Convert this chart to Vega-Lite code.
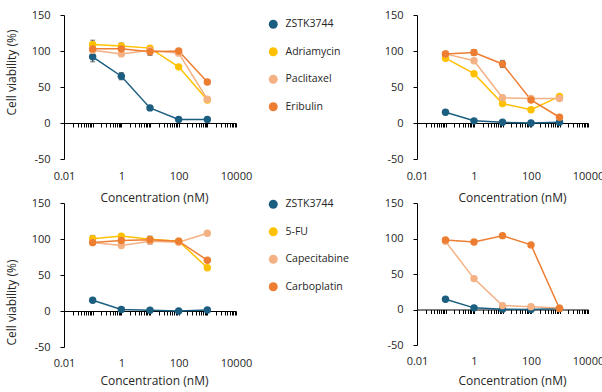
{
  "$schema": "https://vega.github.io/schema/vega-lite/v6.json",
  "padding": {"left": 5, "top": 9, "right": 0, "bottom": 0},
  "bounds": "flush",
  "columns": 2,
  "spacing": {"row": 44, "column": 181},
  "resolve": {"scale": {"color": "independent"}, "legend": {"color": "independent"}},
  "config": {
    "view": {"stroke": null},
    "font": "Open Sans",
    "axis": {"grid": false, "domainColor": "#000000", "tickColor": "#000000", "labelColor": "#262626", "titleColor": "#262626", "labelFontSize": 11, "titleFontSize": 12, "titleFontWeight": "normal", "labelFont": "Open Sans", "titleFont": "Open Sans", "tickSize": 4},
    "axisY": {"labelOverlap": false, "labelExpr": "datum.value + ''", "values": [-50, 0, 50, 100, 150], "labelPadding": 10},
    "legend": {"labelFont": "Open Sans", "labelFontSize": 10.5, "labelColor": "#262626", "symbolType": "circle", "symbolSize": 80, "symbolStrokeWidth": 0, "symbolOpacity": 1, "rowPadding": 16.5, "labelOffset": 7}
  },
  "datasets": {
    "tl": [
      {"c": 0.1, "drug": "ZSTK3744", "v": 92, "lo": 85, "hi": 99},
      {"c": 1, "drug": "ZSTK3744", "v": 65, "lo": 60, "hi": 70},
      {"c": 10, "drug": "ZSTK3744", "v": 21},
      {"c": 100, "drug": "ZSTK3744", "v": 5},
      {"c": 1000, "drug": "ZSTK3744", "v": 5},
      {"c": 0.1, "drug": "Adriamycin", "v": 109, "lo": 103, "hi": 115},
      {"c": 1, "drug": "Adriamycin", "v": 107, "lo": 103, "hi": 111},
      {"c": 10, "drug": "Adriamycin", "v": 104},
      {"c": 100, "drug": "Adriamycin", "v": 78},
      {"c": 1000, "drug": "Adriamycin", "v": 32},
      {"c": 0.1, "drug": "Paclitaxel", "v": 101},
      {"c": 1, "drug": "Paclitaxel", "v": 96},
      {"c": 10, "drug": "Paclitaxel", "v": 101, "lo": 96, "hi": 106},
      {"c": 100, "drug": "Paclitaxel", "v": 97},
      {"c": 1000, "drug": "Paclitaxel", "v": 33},
      {"c": 0.1, "drug": "Eribulin", "v": 103},
      {"c": 1, "drug": "Eribulin", "v": 103},
      {"c": 10, "drug": "Eribulin", "v": 99, "lo": 94, "hi": 104},
      {"c": 100, "drug": "Eribulin", "v": 100},
      {"c": 1000, "drug": "Eribulin", "v": 57}
    ],
    "tr": [
      {"c": 0.1, "drug": "ZSTK3744", "v": 15},
      {"c": 1, "drug": "ZSTK3744", "v": 3},
      {"c": 10, "drug": "ZSTK3744", "v": 1},
      {"c": 100, "drug": "ZSTK3744", "v": 0},
      {"c": 1000, "drug": "ZSTK3744", "v": 1},
      {"c": 0.1, "drug": "Adriamycin", "v": 90},
      {"c": 1, "drug": "Adriamycin", "v": 68.5},
      {"c": 10, "drug": "Adriamycin", "v": 27},
      {"c": 100, "drug": "Adriamycin", "v": 18.5},
      {"c": 1000, "drug": "Adriamycin", "v": 37},
      {"c": 0.1, "drug": "Paclitaxel", "v": 96},
      {"c": 1, "drug": "Paclitaxel", "v": 86.5},
      {"c": 10, "drug": "Paclitaxel", "v": 35},
      {"c": 100, "drug": "Paclitaxel", "v": 34},
      {"c": 1000, "drug": "Paclitaxel", "v": 34},
      {"c": 0.1, "drug": "Eribulin", "v": 96},
      {"c": 1, "drug": "Eribulin", "v": 98, "lo": 94, "hi": 102},
      {"c": 10, "drug": "Eribulin", "v": 82, "lo": 77, "hi": 87},
      {"c": 100, "drug": "Eribulin", "v": 32},
      {"c": 1000, "drug": "Eribulin", "v": 8}
    ],
    "bl": [
      {"c": 0.1, "drug": "ZSTK3744", "v": 15},
      {"c": 1, "drug": "ZSTK3744", "v": 2},
      {"c": 10, "drug": "ZSTK3744", "v": 1},
      {"c": 100, "drug": "ZSTK3744", "v": 0},
      {"c": 1000, "drug": "ZSTK3744", "v": 1.5},
      {"c": 0.1, "drug": "5-FU", "v": 100.5, "lo": 96, "hi": 105},
      {"c": 1, "drug": "5-FU", "v": 104, "lo": 101, "hi": 107},
      {"c": 10, "drug": "5-FU", "v": 99.5},
      {"c": 100, "drug": "5-FU", "v": 97},
      {"c": 1000, "drug": "5-FU", "v": 60, "lo": 57, "hi": 63},
      {"c": 0.1, "drug": "Capecitabine", "v": 95},
      {"c": 1, "drug": "Capecitabine", "v": 91},
      {"c": 10, "drug": "Capecitabine", "v": 97},
      {"c": 100, "drug": "Capecitabine", "v": 95.5},
      {"c": 1000, "drug": "Capecitabine", "v": 108},
      {"c": 0.1, "drug": "Carboplatin", "v": 95},
      {"c": 1, "drug": "Carboplatin", "v": 98},
      {"c": 10, "drug": "Carboplatin", "v": 99, "lo": 93, "hi": 104},
      {"c": 100, "drug": "Carboplatin", "v": 97, "lo": 94, "hi": 100},
      {"c": 1000, "drug": "Carboplatin", "v": 70.5}
    ],
    "br": [
      {"c": 0.1, "drug": "ZSTK3744", "v": 14.5},
      {"c": 1, "drug": "ZSTK3744", "v": 2.3},
      {"c": 10, "drug": "ZSTK3744", "v": 0.5},
      {"c": 100, "drug": "ZSTK3744", "v": 0},
      {"c": 1000, "drug": "ZSTK3744", "v": 1.4},
      {"c": 0.1, "drug": "Capecitabine", "v": 96},
      {"c": 1, "drug": "Capecitabine", "v": 43.5},
      {"c": 10, "drug": "Capecitabine", "v": 5.5},
      {"c": 100, "drug": "Capecitabine", "v": 4},
      {"c": 1000, "drug": "Capecitabine", "v": 2},
      {"c": 0.1, "drug": "Carboplatin", "v": 98},
      {"c": 1, "drug": "Carboplatin", "v": 95},
      {"c": 10, "drug": "Carboplatin", "v": 104},
      {"c": 100, "drug": "Carboplatin", "v": 91},
      {"c": 1000, "drug": "Carboplatin", "v": 1.5}
    ]
  },
  "concat": [
    {
      "width": 172, "height": 144,
      "data": {"name": "tl"},
      "layer": [
        {"transform": [{"filter": "isValid(datum.lo)"}], "mark": {"type": "errorbar", "ticks": true, "color": "#333333", "thickness": 1}, "encoding": {"x": {"field": "c", "type": "quantitative", "scale": {"type": "log", "domain": [0.01, 10000], "nice": false}, "title": "Concentration (nM)"}, "y": {"field": "lo", "type": "quantitative", "scale": {"domain": [-50, 150], "nice": false, "zero": false}, "title": "Cell viability (%)"}, "y2": {"field": "hi"}}},
        {"mark": {"type": "line", "strokeWidth": 1.5}, "encoding": {
          "x": {"field": "c", "type": "quantitative", "scale": {"type": "log", "domain": [0.01, 10000], "nice": false}, "title": "Concentration (nM)", "axis": {"values": [0.01,0.02,0.03,0.04,0.05,0.06,0.07,0.08,0.09,0.1,0.2,0.3,0.4,0.5,0.6,0.7,0.8,0.9,1,2,3,4,5,6,7,8,9,10,20,30,40,50,60,70,80,90,100,200,300,400,500,600,700,800,900,1000,2000,3000,4000,5000,6000,7000,8000,9000,10000], "format": "~g", "labelExpr": "indexof([0.01,1,100,10000], datum.value) >= 0 ? datum.label : ''", "offset": -36, "labelPadding": 43, "titlePadding": 11, "labelOverlap": false, "labelFlush": false, "labelBound": false, "titleX": 90}},
          "y": {"field": "v", "type": "quantitative", "scale": {"domain": [-50, 150], "nice": false, "zero": false}, "title": "Cell viability (%)", "axis": {"titlePadding": 13, "titleY": 57}},
          "color": {"field": "drug", "type": "nominal", "scale": {"domain": ["ZSTK3744", "Adriamycin", "Paclitaxel", "Eribulin"], "range": ["#1B5E80", "#FFC000", "#F4B183", "#ED7D31"]}, "legend": {"title": null, "orient": "none", "legendX": 204, "legendY": 4, "symbolType": "circle"}}}},
        {"mark": {"type": "point", "filled": true, "size": 55, "opacity": 1}, "encoding": {
          "x": {"field": "c", "type": "quantitative", "scale": {"type": "log", "domain": [0.01, 10000], "nice": false}, "title": "Concentration (nM)"},
          "y": {"field": "v", "type": "quantitative", "scale": {"domain": [-50, 150], "nice": false, "zero": false}, "title": "Cell viability (%)"},
          "color": {"field": "drug", "type": "nominal", "scale": {"domain": ["ZSTK3744", "Adriamycin", "Paclitaxel", "Eribulin"], "range": ["#1B5E80", "#FFC000", "#F4B183", "#ED7D31"]}}}}
      ]
    },
    {
      "width": 171, "height": 144,
      "data": {"name": "tr"},
      "layer": [
        {"transform": [{"filter": "isValid(datum.lo)"}], "mark": {"type": "errorbar", "ticks": true, "color": "#333333", "thickness": 1}, "encoding": {"x": {"field": "c", "type": "quantitative", "scale": {"type": "log", "domain": [0.01, 10000], "nice": false}, "title": "Concentration (nM)"}, "y": {"field": "lo", "type": "quantitative", "scale": {"domain": [-50, 150], "nice": false, "zero": false}, "title": null}, "y2": {"field": "hi"}}},
        {"mark": {"type": "line", "strokeWidth": 1.5}, "encoding": {
          "x": {"field": "c", "type": "quantitative", "scale": {"type": "log", "domain": [0.01, 10000], "nice": false}, "title": "Concentration (nM)", "axis": {"values": [0.01,0.02,0.03,0.04,0.05,0.06,0.07,0.08,0.09,0.1,0.2,0.3,0.4,0.5,0.6,0.7,0.8,0.9,1,2,3,4,5,6,7,8,9,10,20,30,40,50,60,70,80,90,100,200,300,400,500,600,700,800,900,1000,2000,3000,4000,5000,6000,7000,8000,9000,10000], "format": "~g", "labelExpr": "indexof([0.01,1,100,10000], datum.value) >= 0 ? datum.label : ''", "offset": -36, "labelPadding": 43, "titlePadding": 11, "labelOverlap": false, "labelFlush": false, "labelBound": false, "titleX": 95}},
          "y": {"field": "v", "type": "quantitative", "scale": {"domain": [-50, 150], "nice": false, "zero": false}, "title": null},
          "color": {"field": "drug", "type": "nominal", "scale": {"domain": ["ZSTK3744", "Adriamycin", "Paclitaxel", "Eribulin"], "range": ["#1B5E80", "#FFC000", "#F4B183", "#ED7D31"]}, "legend": null}}},
        {"mark": {"type": "point", "filled": true, "size": 55, "opacity": 1}, "encoding": {
          "x": {"field": "c", "type": "quantitative", "scale": {"type": "log", "domain": [0.01, 10000], "nice": false}, "title": "Concentration (nM)"},
          "y": {"field": "v", "type": "quantitative", "scale": {"domain": [-50, 150], "nice": false, "zero": false}, "title": null},
          "color": {"field": "drug", "type": "nominal", "scale": {"domain": ["ZSTK3744", "Adriamycin", "Paclitaxel", "Eribulin"], "range": ["#1B5E80", "#FFC000", "#F4B183", "#ED7D31"]}, "legend": null}}}
      ]
    },
    {
      "width": 172, "height": 144,
      "data": {"name": "bl"},
      "layer": [
        {"transform": [{"filter": "isValid(datum.lo)"}], "mark": {"type": "errorbar", "ticks": true, "color": "#333333", "thickness": 1}, "encoding": {"x": {"field": "c", "type": "quantitative", "scale": {"type": "log", "domain": [0.01, 10000], "nice": false}, "title": "Concentration (nM)"}, "y": {"field": "lo", "type": "quantitative", "scale": {"domain": [-50, 150], "nice": false, "zero": false}, "title": "Cell viability (%)"}, "y2": {"field": "hi"}}},
        {"mark": {"type": "line", "strokeWidth": 1.5}, "encoding": {
          "x": {"field": "c", "type": "quantitative", "scale": {"type": "log", "domain": [0.01, 10000], "nice": false}, "title": "Concentration (nM)", "axis": {"values": [0.01,0.02,0.03,0.04,0.05,0.06,0.07,0.08,0.09,0.1,0.2,0.3,0.4,0.5,0.6,0.7,0.8,0.9,1,2,3,4,5,6,7,8,9,10,20,30,40,50,60,70,80,90,100,200,300,400,500,600,700,800,900,1000,2000,3000,4000,5000,6000,7000,8000,9000,10000], "format": "~g", "labelExpr": "indexof([0.01,1,100,10000], datum.value) >= 0 ? datum.label : ''", "offset": -36, "labelPadding": 42, "titlePadding": 7, "labelOverlap": false, "labelFlush": false, "labelBound": false, "titleX": 90}},
          "y": {"field": "v", "type": "quantitative", "scale": {"domain": [-50, 150], "nice": false, "zero": false}, "title": "Cell viability (%)", "axis": {"titlePadding": 13, "titleY": 99}},
          "color": {"field": "drug", "type": "nominal", "scale": {"domain": ["ZSTK3744", "5-FU", "Capecitabine", "Carboplatin"], "range": ["#1B5E80", "#FFC000", "#F4B183", "#ED7D31"]}, "legend": {"title": null, "orient": "none", "legendX": 204, "legendY": -4, "symbolType": "circle"}}}},
        {"mark": {"type": "point", "filled": true, "size": 55, "opacity": 1}, "encoding": {
          "x": {"field": "c", "type": "quantitative", "scale": {"type": "log", "domain": [0.01, 10000], "nice": false}, "title": "Concentration (nM)"},
          "y": {"field": "v", "type": "quantitative", "scale": {"domain": [-50, 150], "nice": false, "zero": false}, "title": "Cell viability (%)"},
          "color": {"field": "drug", "type": "nominal", "scale": {"domain": ["ZSTK3744", "5-FU", "Capecitabine", "Carboplatin"], "range": ["#1B5E80", "#FFC000", "#F4B183", "#ED7D31"]}}}}
      ]
    },
    {
      "width": 171, "height": 142,
      "data": {"name": "br"},
      "layer": [
        {"mark": {"type": "line", "strokeWidth": 1.5}, "encoding": {
          "x": {"field": "c", "type": "quantitative", "scale": {"type": "log", "domain": [0.01, 10000], "nice": false}, "title": "Concentration (nM)", "axis": {"values": [0.01,0.02,0.03,0.04,0.05,0.06,0.07,0.08,0.09,0.1,0.2,0.3,0.4,0.5,0.6,0.7,0.8,0.9,1,2,3,4,5,6,7,8,9,10,20,30,40,50,60,70,80,90,100,200,300,400,500,600,700,800,900,1000,2000,3000,4000,5000,6000,7000,8000,9000,10000], "format": "~g", "labelExpr": "indexof([0.01,1,100,10000], datum.value) >= 0 ? datum.label : ''", "offset": -35.5, "labelPadding": 42, "titlePadding": 9, "labelOverlap": false, "labelFlush": false, "labelBound": false, "titleX": 95}},
          "y": {"field": "v", "type": "quantitative", "scale": {"domain": [-50, 150], "nice": false, "zero": false}, "title": null},
          "color": {"field": "drug", "type": "nominal", "scale": {"domain": ["ZSTK3744", "5-FU", "Capecitabine", "Carboplatin"], "range": ["#1B5E80", "#FFC000", "#F4B183", "#ED7D31"]}, "legend": null}}},
        {"mark": {"type": "point", "filled": true, "size": 55, "opacity": 1}, "encoding": {
          "x": {"field": "c", "type": "quantitative", "scale": {"type": "log", "domain": [0.01, 10000], "nice": false}, "title": "Concentration (nM)"},
          "y": {"field": "v", "type": "quantitative", "scale": {"domain": [-50, 150], "nice": false, "zero": false}, "title": null},
          "color": {"field": "drug", "type": "nominal", "scale": {"domain": ["ZSTK3744", "5-FU", "Capecitabine", "Carboplatin"], "range": ["#1B5E80", "#FFC000", "#F4B183", "#ED7D31"]}, "legend": null}}}
      ]
    }
  ]
}
